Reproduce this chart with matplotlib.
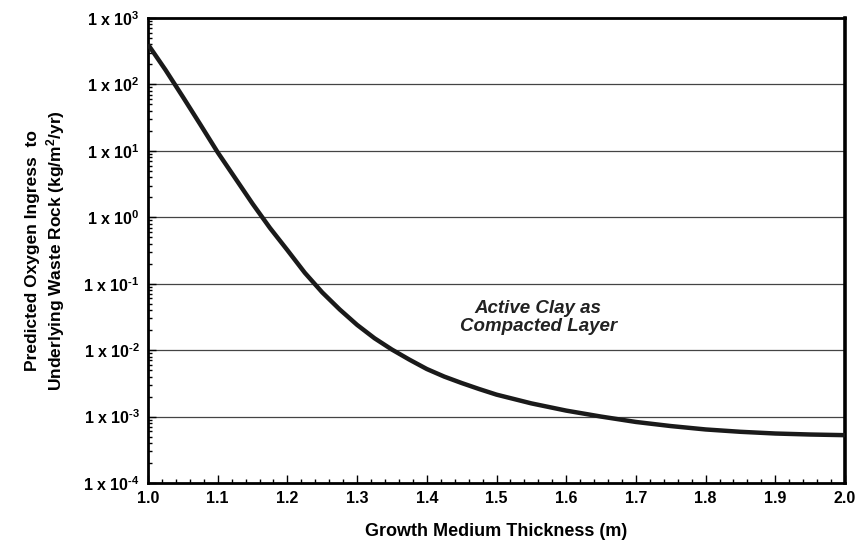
import matplotlib
matplotlib.use("Agg")
import matplotlib.pyplot as plt
from matplotlib.ticker import FixedLocator, LogLocator, NullFormatter

plt.rcParams["font.family"] = ["Liberation Sans", "DejaVu Sans"]
plt.rcParams["mathtext.fontset"] = "custom"
plt.rcParams["mathtext.rm"] = "Liberation Sans:bold"
plt.rcParams["mathtext.bf"] = "Liberation Sans:bold"
plt.rcParams["mathtext.it"] = "Liberation Sans:bold:italic"
plt.rcParams["axes.unicode_minus"] = False

# espessura (m) x ingresso de oxigenio (kg/m2/ano)
espessura = [1.000, 1.025, 1.050, 1.075, 1.100, 1.125, 1.150, 1.175, 1.200, 1.225,
             1.250, 1.275, 1.300, 1.325, 1.350, 1.375, 1.400, 1.425, 1.450, 1.475,
             1.500, 1.55, 1.60, 1.65, 1.70, 1.75, 1.80, 1.85, 1.90, 1.95, 2.00]
oxigenio = [400, 166, 65, 25, 9.5, 3.9, 1.6, 0.69, 0.32, 0.146,
            0.074, 0.041, 0.024, 0.0151, 0.0102, 0.0072, 0.0052, 0.0040, 0.0032, 0.0026,
            0.00214, 0.00158, 0.00123, 0.0010, 0.00083, 0.00072, 0.00064, 0.00059,
            0.000556, 0.000537, 0.000525]

x_ticks = [1.0, 1.1, 1.2, 1.3, 1.4, 1.5, 1.6, 1.7, 1.8, 1.9, 2.0]
y_ticks = [1e-4, 1e-3, 1e-2, 1e-1, 1e0, 1e1, 1e2, 1e3]
y_labels = [r"1 x 10$^{\text{-}4}$", r"1 x 10$^{\text{-}3}$", r"1 x 10$^{\text{-}2}$",
            r"1 x 10$^{\text{-}1}$", "1 x 10$^{0}$", "1 x 10$^{1}$", "1 x 10$^{2}$",
            "1 x 10$^{3}$"]

fig = plt.figure(figsize=(8.59, 5.41), dpi=100)
ax = fig.add_axes([0.1723, 0.1072, 0.8114, 0.8595])

ax.set_yscale("log")
ax.set_xlim(1.0, 2.0)
ax.set_ylim(1e-4, 1e3)

for y in y_ticks[1:-1]:
    ax.axhline(y, color="#444444", lw=0.9, zorder=1)

ax.plot(espessura, oxigenio, color="#1a1a1a", lw=3.2, solid_capstyle="butt",
        solid_joinstyle="round", zorder=3)

ax.text(1.56, 0.031, "Active Clay as\nCompacted Layer", ha="center", va="center",
        fontsize=13.5, fontweight="bold", style="italic", color="#222222",
        linespacing=1.05)

ax.xaxis.set_major_locator(FixedLocator(x_ticks))
ax.xaxis.set_minor_locator(FixedLocator([1.0 + 0.02 * i for i in range(51)]))
ax.set_xticklabels([f"{v:.1f}" for v in x_ticks])
ax.yaxis.set_major_locator(FixedLocator(y_ticks))
ax.set_yticklabels(y_labels)
ax.yaxis.set_minor_locator(LogLocator(base=10, subs=range(2, 10), numticks=20))
ax.yaxis.set_minor_formatter(NullFormatter())

ax.tick_params(which="both", direction="in", top=False, right=False, width=1.0)
ax.tick_params(which="major", length=6, labelsize=11.5, pad=6)
ax.tick_params(which="minor", length=3)
for lab in ax.get_xticklabels() + ax.get_yticklabels():
    lab.set_fontweight("bold")

for s in ax.spines.values():
    s.set_linewidth(2)
    s.set_color("black")
ax.spines["right"].set_linewidth(2.6)

ax.set_xlabel("Growth Medium Thickness (m)", fontsize=13, fontweight="bold", labelpad=12)
ax.set_ylabel("Predicted Oxygen Ingress  to\nUnderlying Waste Rock (kg/m$^{2}$/yr)",
              fontsize=12.5, fontweight="bold", labelpad=12)

fig.savefig("out.png", dpi=100)
